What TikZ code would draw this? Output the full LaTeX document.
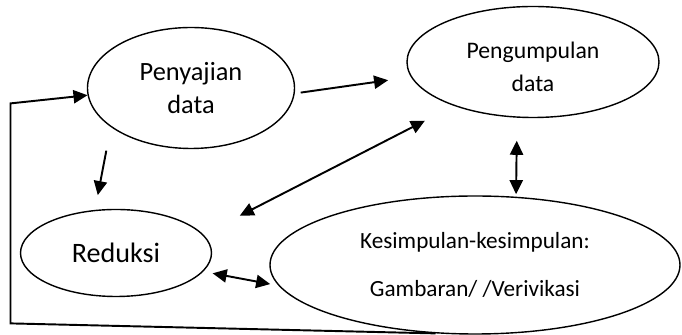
\documentclass[tikz,border=0pt]{standalone}
\usepackage{fontspec}
\setmainfont{Carlito}
\usetikzlibrary{shapes.geometric,arrows.meta}

\begin{document}
\begin{tikzpicture}
      \useasboundingbox (0,0) rectangle (13.64,6.70);
      \tikzstyle {stage} = [shape=ellipse, draw=black, line width=0.8pt, inner sep=0pt, align=center];
      \tikzstyle {flow} = [line width=1.1pt, -{Triangle[length=8pt,width=7.5pt]}];
      \tikzstyle {both} = [line width=1.1pt, {Triangle[length=8pt,width=7.5pt]}-{Triangle[length=8pt,width=7.5pt]}];
      \node (penyajian) [stage, minimum width=4.14cm, minimum height=2.42cm, font=\fontsize{15}{19}\selectfont] at (3.82,4.94) {Penyajian\\data};
      \node (pengumpulan) [stage, minimum width=5.04cm, minimum height=2.22cm, font=\fontsize{13.5}{18.5}\selectfont] at (10.66,5.46) {\rule{0pt}{15pt}Pengumpulan\\data};
      \node (reduksi) [stage, minimum width=3.82cm, minimum height=1.74cm, font=\fontsize{16}{19}\selectfont] at (2.32,1.64) {Reduksi};
      \node (kesimpulan) [stage, minimum width=8.2cm, minimum height=2.76cm, font=\fontsize{13.2}{27}\selectfont] at (9.5,1.40) {Kesimpulan-kesimpulan:\\Gambaran/ /Verivikasi};
      \draw [flow, shorten <=0.12cm, shorten >=0.46cm] (penyajian.-3) -- (pengumpulan.187);
      \draw [flow, shorten <=0.48cm, shorten >=0.3cm] (penyajian.206) -- (reduksi.116);
      \draw [both, shorten <=0.65cm, shorten >=0.82cm] (pengumpulan.209) -- (reduksi.12);
      \draw [both, shorten <=0.46cm, shorten >=0.05cm] (pengumpulan.254) -- (kesimpulan.59);
      \draw [both, shorten <=0.19cm, shorten >=0.17cm] (reduksi.-12) -- (kesimpulan.186);
      \draw [flow] (kesimpulan.240) -- ++(-8.5,0.2) -- ++(0,4.4) -- (penyajian.184);
\end{tikzpicture}
\end{document}
